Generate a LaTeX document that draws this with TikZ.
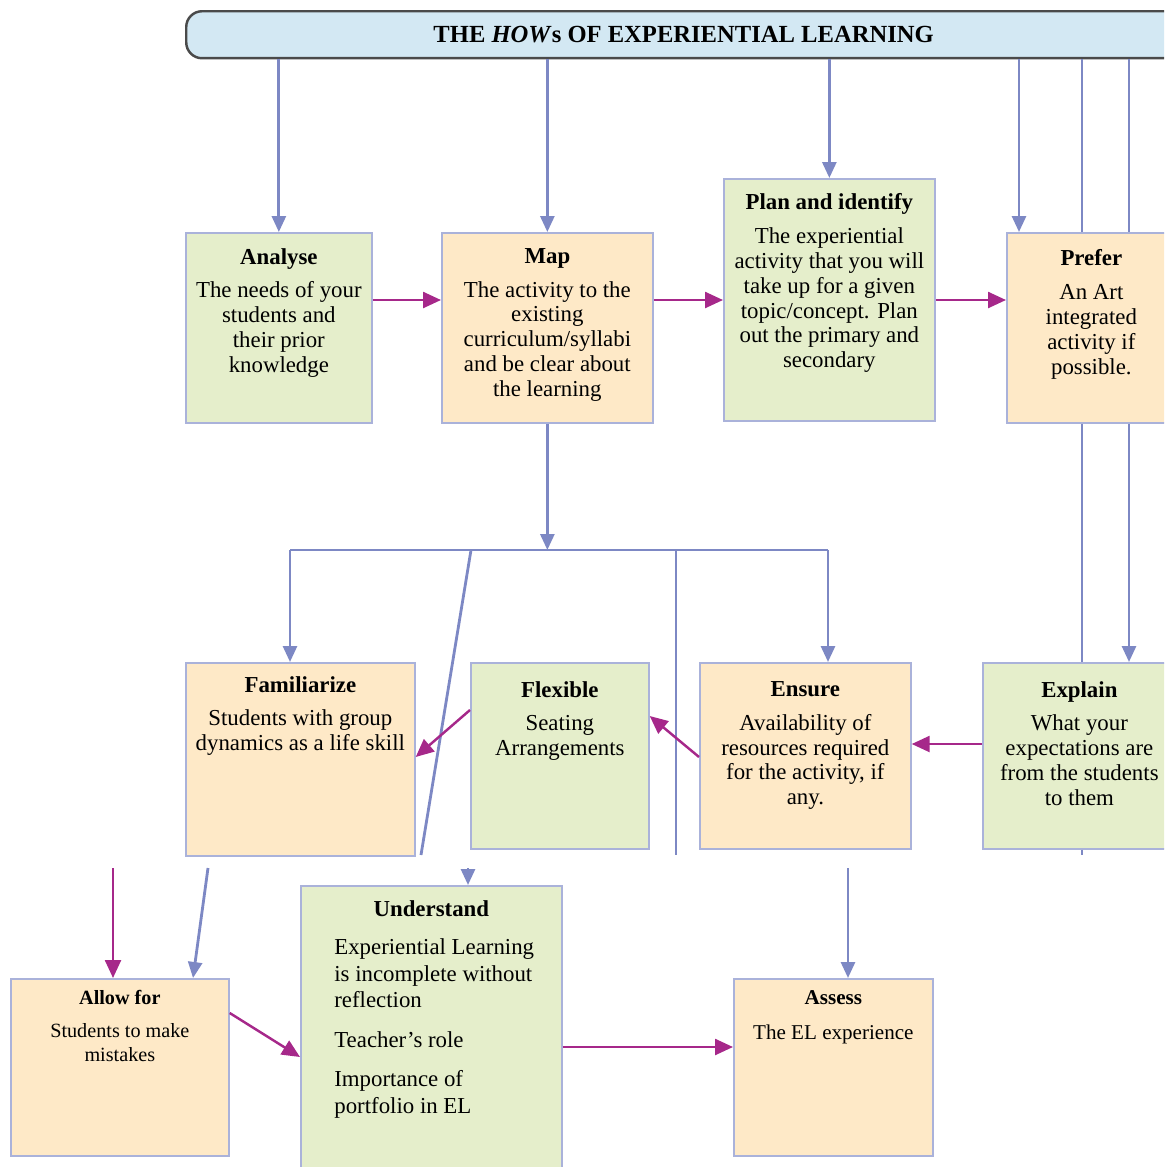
\documentclass[tikz,border=0pt]{standalone}
\usepackage{fontspec}
\setmainfont{Liberation Serif}
\usetikzlibrary{arrows.meta}

\definecolor{bannerfill}{HTML}{D3E8F3}
\definecolor{bannerline}{HTML}{4A4A4A}
\definecolor{greenfill}{HTML}{E5EECB}
\definecolor{orangefill}{HTML}{FEE9C7}
\definecolor{boxline}{HTML}{AAB2DA}
\definecolor{flowblue}{HTML}{7D88C4}
\definecolor{flowmag}{HTML}{A6288A}

\begin{document}
\begin{tikzpicture}[x=0.02cm, y=-0.02cm]
\useasboundingbox (0,0) rectangle (1164,1167);
\clip (0,0) rectangle (1164,1167);

% title bar
\node[draw=bannerline, line width=1.4pt, fill=bannerfill, rounded corners=9pt,
      minimum width=19.9cm, minimum height=0.94cm, anchor=north west,
      font=\fontsize{14}{16}\selectfont\bfseries] (banner) at (185,10)
      {THE \textit{HOW}s OF EXPERIENTIAL LEARNING};

% boxes
\begin{scope}[every node/.style={draw=boxline, line width=1pt, anchor=north west, inner sep=0pt}]
    \node[fill=greenfill,  minimum width=3.72cm, minimum height=3.8cm]  (analyse)     at (185,232) {};
    \node[fill=orangefill, minimum width=4.22cm, minimum height=3.8cm]  (map)         at (441,232) {};
    \node[fill=greenfill,  minimum width=4.22cm, minimum height=4.84cm] (plan)        at (723,178) {};
    \node[fill=orangefill, minimum width=3.38cm, minimum height=3.8cm]  (prefer)      at (1006,232) {};
    \node[fill=orangefill, minimum width=4.58cm, minimum height=3.86cm] (familiarize) at (185,662) {};
    \node[fill=greenfill,  minimum width=3.56cm, minimum height=3.72cm] (flexible)    at (470,662) {};
    \node[fill=orangefill, minimum width=4.22cm, minimum height=3.72cm] (ensure)      at (699,662) {};
    \node[fill=greenfill,  minimum width=3.86cm, minimum height=3.72cm] (explain)     at (982,662) {};
    \node[fill=orangefill, minimum width=4.36cm, minimum height=3.54cm] (allow)       at (10,978) {};
    \node[fill=greenfill,  minimum width=5.22cm, minimum height=5.9cm]  (understand)  at (300,885) {};
    \node[fill=orangefill, minimum width=3.98cm, minimum height=3.54cm] (assess)      at (733,978) {};
\end{scope}

% box texts
\begin{scope}[every node/.style={anchor=north, align=center, inner sep=0pt,
              font=\fontsize{13}{14.2}\selectfont}]
    \node (analyseText) at (analyse.north |- 0,248)
        {\textbf{Analyse}\\[5pt] The needs of your\\ students and\\ their prior\\ knowledge};
    \node (mapText) at (map.north |- 0,248)
        {\textbf{Map}\\[5pt] The activity to the\\ existing\\ curriculum/syllabi\\ and be clear about\\ the learning};
    \node (planText) at (plan.north |- 0,193)
        {\textbf{Plan and identify}\\[5pt] The experiential\\ activity that you will\\ take up for a given\\ topic/concept. Plan\\ out the primary and\\ secondary};
    \node (preferText) at (prefer.north |- 0,249)
        {\textbf{Prefer}\\[5pt] An Art\\ integrated\\ activity if\\ possible.};
    \node (familiarizeText) at (familiarize.north |- 0,676)
        {\textbf{Familiarize}\\[5pt] Students with group\\ dynamics as a life skill};
    \node (flexibleText) at (flexible.north |- 0,681)
        {\textbf{Flexible}\\[5pt] Seating\\ Arrangements};
    \node (ensureText) at (ensure.north |- 0,681)
        {\textbf{Ensure}\\[5pt] Availability of\\ resources required\\ for the activity, if\\ any.};
    \node (explainText) at (explain.north |- 0,681)
        {\textbf{Explain}\\[5pt] What your\\ expectations are\\ from the students\\ to them};
    \node[font=\fontsize{11.5}{13.6}\selectfont] (allowText) at (allow.north |- 0,990)
        {\textbf{Allow for}\\[5pt] Students to make\\ mistakes};
    \node (understandTitle) at (understand.north |- 0,900) {\textbf{Understand}};
    \node[anchor=north west, align=left, font=\fontsize{13}{15.3}\selectfont] (understandText) at (334,938)
        {Experiential Learning\\ is incomplete without\\ reflection\\[7pt] Teacher's role\\[7pt] Importance of\\ portfolio in EL};
    \node[font=\fontsize{12}{14}\selectfont] (assessText) at (assess.north |- 0,990)
        {\textbf{Assess}\\[6pt] The EL experience};
\end{scope}

% connector end points
\coordinate (p1) at (1019,0);
\coordinate (p2) at (1082,0);
\coordinate (p3) at (1129,0);
\coordinate (row1) at (0,300);
\coordinate (row2) at (0,744);
\coordinate (bar) at (547,550);
\coordinate (barL) at (290,550);
\coordinate (barR) at (828,550);
\coordinate (slantTop) at (471,550);
\coordinate (slantEnd) at (421,855);
\coordinate (midTop) at (676,550);
\coordinate (midEnd) at (676,855);
\coordinate (allowIn) at (113,868);
\coordinate (slantLow) at (208,868);
\coordinate (slantHit) at (193,978);
\coordinate (underIn) at (468,868);
\coordinate (assessIn) at (848,868);

% connectors
\begin{scope}[>={Triangle[length=0.32cm,width=0.28cm]},
              every edge/.style={draw=flowblue, line width=1.6pt},
              mag/.style={draw=flowmag, line width=1.4pt, >={Triangle[length=0.36cm,width=0.32cm]}}]
    \path [->] (banner.south -| analyse.north) edge (analyse.north);
    \path [->] (banner.south -| map.north) edge (map.north);
    \path [->] (banner.south -| plan.north) edge (plan.north);
    \path [->] (banner.south -| p1) edge (prefer.north -| p1);
    \path (banner.south -| p2) edge (prefer.north -| p2);
    \path (banner.south -| p3) edge (prefer.north -| p3);
    \path (prefer.south -| p2) edge (explain.north -| p2);
    \path [->] (prefer.south -| p3) edge (explain.north -| p3);
    \path (explain.south -| p2) edge (p2 |- midEnd);

    \path [->] (map.south) edge (map.south |- bar);
    \path (barL) edge (barR);
    \path [->] (barL) edge (familiarize.north -| barL);
    \path [->] (barR) edge (ensure.north -| barR);
    \path (slantTop) edge (slantEnd);
    \path (midTop) edge (midEnd);

    \path [->] (allowIn) edge[mag] (allow.north -| allowIn);
    \path [->] (slantLow) edge (slantHit);
    \path [->] (underIn) edge (understand.north -| underIn);
    \path [->] (assessIn) edge (assess.north -| assessIn);

    \path [->] (analyse.east |- row1) edge[mag] (map.west |- row1);
    \path [->] (map.east |- row1) edge[mag] (plan.west |- row1);
    \path [->] (plan.east |- row1) edge[mag] (prefer.west |- row1);
    \path [->] (explain.west |- row2) edge[mag] (ensure.east |- row2);
    \path [->] (ensure.west |- 0,757) edge[mag] (flexible.east |- 0,716);
    \path [->] (flexible.west |- 0,710) edge[mag] (familiarize.east |- 0,757);
    \path [->] (allow.east |- 0,1013) edge[mag] (understand.west |- 0,1057);
    \path [->] (understand.east |- 0,1047) edge[mag] (assess.west |- 0,1047);
\end{scope}
\end{tikzpicture}
\end{document}
